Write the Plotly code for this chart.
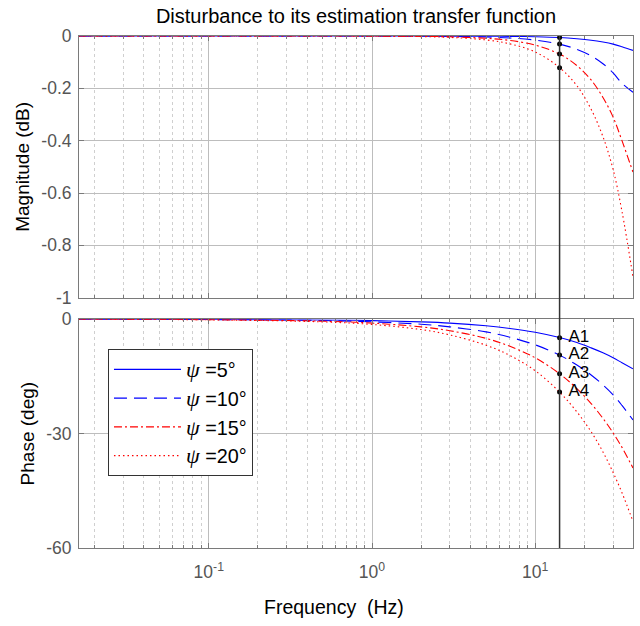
import numpy as np
import plotly.graph_objects as go
from plotly.subplots import make_subplots

# ---- data ----
freq_hz = [0.0159, 0.1, 0.5, 1, 2, 3, 5, 7, 10, 14.1, 18, 22, 26, 30, 34, 39.7]

mag_psi5 = [0, 0, 0, 0, -0.0001, -0.0003, -0.0008, -0.0015, -0.003, -0.006, -0.0105, -0.016, -0.023, -0.031, -0.041, -0.055]
mag_psi10 = [0, 0, 0, -0.0002, -0.0006, -0.0014, -0.004, -0.0076, -0.0156, -0.031, -0.051, -0.076, -0.106, -0.141, -0.181, -0.215]
mag_psi15 = [0, 0, 0, -0.0003, -0.0014, -0.0031, -0.0087, -0.017, -0.035, -0.069, -0.113, -0.168, -0.235, -0.31, -0.40, -0.52]
mag_psi20 = [0, 0, 0, -0.0006, -0.0024, -0.0055, -0.015, -0.03, -0.061, -0.121, -0.19, -0.28, -0.385, -0.51, -0.67, -0.92]

ph_psi5 = [0, -0.03, -0.17, -0.34, -0.68, -1.0, -1.7, -2.4, -3.4, -4.8, -6.1, -7.5, -8.8, -10.1, -11.4, -13.0]
ph_psi10 = [0, -0.07, -0.33, -0.67, -1.3, -2.0, -3.3, -4.7, -6.7, -9.4, -12.0, -14.6, -17.2, -19.8, -22.6, -26.4]
ph_psi15 = [0, -0.1, -0.5, -1.0, -2.0, -3.0, -5.0, -7.1, -10.1, -14.3, -18.2, -22.1, -26.0, -29.8, -33.6, -39.0]
ph_psi20 = [0, -0.14, -0.68, -1.35, -2.7, -4.1, -6.8, -9.5, -13.5, -19.1, -24.3, -29.5, -34.8, -40.2, -45.5, -53.0]

marker_freq = 14.1
marker_mag = [-0.006, -0.031, -0.069, -0.121]
marker_phase = [-4.83, -9.37, -14.27, -19.05]
marker_labels = ["A1", "A2", "A3", "A4"]

series_names = ["=5°", "=10°", "=15°", "=20°"]
mag_series = [mag_psi5, mag_psi10, mag_psi15, mag_psi20]
ph_series = [ph_psi5, ph_psi10, ph_psi15, ph_psi20]

mag_ticks = [0, -0.2, -0.4, -0.6, -0.8, -1]
mag_ticktext = ["0", "-0.2", "-0.4", "-0.6", "-0.8", "-1"]
ph_ticks = [0, -30, -60]
ph_ticktext = ["0", "-30", "-60"]
x_ticks = [0.1, 1, 10]
x_ticktext = ["10<sup>-1</sup>", "10<sup>0</sup>", "10<sup>1</sup>"]

# ---- styles ----
colors = ["#0000ff", "#0000ff", "#ff0000", "#ff0000"]
dashes = ["solid", "13px,7px", "8px,3px,2px,3px", "1.5px,3px"]
FONT = "Liberation Sans, Arial, sans-serif"
TICKCOL = "#555555"
GRID = "#bdbdbd"
MINOR_GRID = "#cfcfcf"
AXCOL = "#7a7a7a"

minor_vals = [m * 10.0 ** e for e in range(-2, 2) for m in range(2, 10)]
minor_vals = [v for v in minor_vals if 0.0159 <= v <= 40]

fig = make_subplots(rows=2, cols=1, shared_xaxes=False)

psi = "<span style='font-family:Liberation Serif, Times New Roman, serif;font-style:italic;font-size:22px'>ψ</span>"
for i in range(4):
    fig.add_trace(go.Scatter(x=freq_hz, y=mag_series[i], mode="lines", line_shape="spline",
                             line=dict(color=colors[i], width=1.1, dash=dashes[i]),
                             name=psi + " " + series_names[i], showlegend=False, legendgroup=str(i)),
                  row=1, col=1)
for i in range(4):
    fig.add_trace(go.Scatter(x=freq_hz, y=ph_series[i], mode="lines", line_shape="spline",
                             line=dict(color=colors[i], width=1.1, dash=dashes[i]),
                             name=psi + " " + series_names[i], showlegend=True, legendgroup=str(i)),
                  row=2, col=1)

fig.add_trace(go.Scatter(x=[marker_freq] * 4, y=marker_mag, mode="markers",
                         marker=dict(color="black", size=5), showlegend=False), row=1, col=1)
fig.add_trace(go.Scatter(x=[marker_freq] * 4, y=marker_phase, mode="markers+text",
                         text=["\u00a0" + t for t in marker_labels], textposition="middle right",
                         textfont=dict(family=FONT, size=17, color="black"),
                         marker=dict(color="black", size=5), showlegend=False, cliponaxis=False), row=2, col=1)

# vertical marker line across both subplots
fig.add_shape(type="line", xref="x2", yref="paper", x0=marker_freq, x1=marker_freq, y0=0, y1=1,
              line=dict(color="#333333", width=1.5), layer="above")

xcommon = dict(type="log", range=[np.log10(0.01603), np.log10(39.72)], showline=True, linecolor=AXCOL,
               linewidth=1, mirror="allticks", ticks="inside", ticklen=5, tickcolor=AXCOL,
               showgrid=True, gridcolor=GRID, gridwidth=1, tickvals=x_ticks, ticktext=x_ticktext,
               tickfont=dict(family=FONT, size=17.5, color=TICKCOL), zeroline=False,
               minor=dict(tickvals=minor_vals, ticks="inside", ticklen=3, tickcolor=AXCOL,
                          showgrid=True, gridcolor=MINOR_GRID, griddash="dot", gridwidth=1))

fig.update_xaxes(**xcommon)
fig.update_xaxes(showticklabels=False, row=1, col=1)
fig.update_xaxes(ticklabelstandoff=8, row=2, col=1)

ycommon = dict(showline=True, linecolor=AXCOL, linewidth=1, mirror="allticks", ticks="inside",
               ticklen=5, tickcolor=AXCOL, showgrid=True, gridcolor=GRID, gridwidth=1, zeroline=False,
               tickfont=dict(family=FONT, size=17.5, color=TICKCOL), ticklabelstandoff=3)
fig.update_yaxes(**ycommon)
fig.update_yaxes(range=[-1, 0], tickvals=mag_ticks, ticktext=mag_ticktext, domain=[0.4889, 1.0],
                 title=dict(text="Magnitude (dB)", font=dict(family=FONT, size=19, color="black"), standoff=6),
                 row=1, col=1)
fig.update_yaxes(range=[-60, 0], tickvals=ph_ticks, ticktext=ph_ticktext, domain=[0.0, 0.4467],
                 title=dict(text="Phase (deg)", font=dict(family=FONT, size=19, color="black"), standoff=6),
                 row=2, col=1)

# x-axis title (MATLAB places it slightly left of centre)
fig.add_annotation(text="Frequency\u00a0\u00a0(Hz)", xref="paper", yref="paper", x=0.46, y=-0.115,
                   xanchor="center", yanchor="middle", showarrow=False,
                   font=dict(family=FONT, size=19.5, color="black"))

fig.update_layout(
    width=640, height=626,
    margin=dict(l=79, r=7, t=36, b=78),
    paper_bgcolor="white", plot_bgcolor="white",
    title=dict(text="Disturbance to its estimation transfer function", x=0.5, xanchor="center",
               xref="paper", y=1 - 16 / 626, yanchor="middle",
               font=dict(family=FONT, size=20, color="black")),
    showlegend=True,
    legend=dict(x=0.0523, y=0.3887, xanchor="left", yanchor="top", bgcolor="white",
                bordercolor="#333333", borderwidth=1, font=dict(family=FONT, size=19.8, color="black"),
                tracegroupgap=0, itemwidth=67),
)

fig.write_html("out.html")
